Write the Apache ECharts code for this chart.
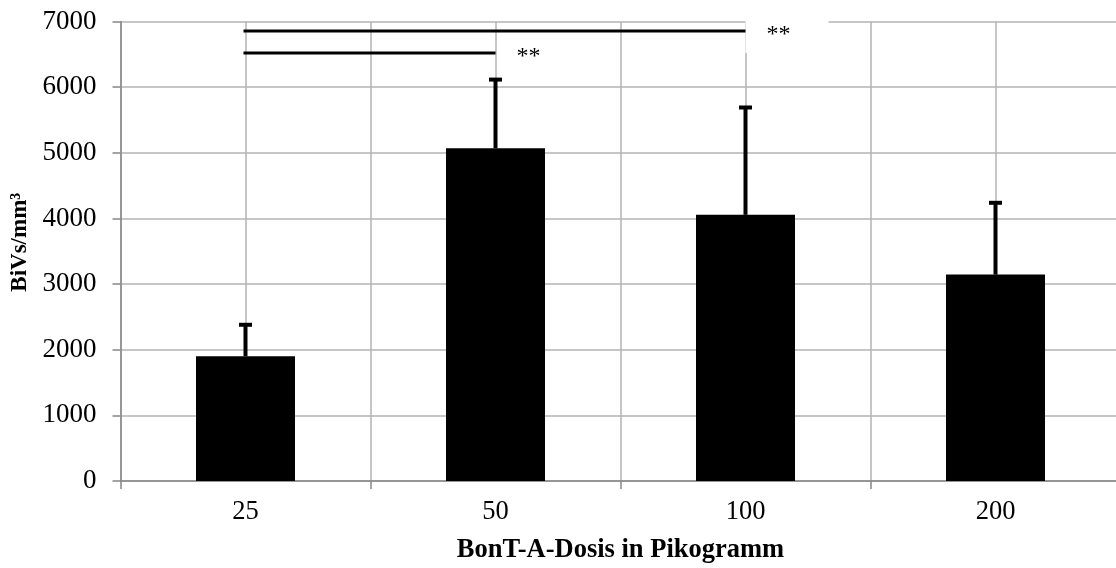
<!DOCTYPE html>
<html>
<head>
<meta charset="utf-8">
<script src="https://cdn.jsdelivr.net/npm/echarts@6/dist/echarts.min.js"></script>
<style>
html,body{margin:0;padding:0;background:#fff;overflow:hidden;}
#chart{width:1116px;height:568px;}
</style>
</head>
<body>
<div id="chart"></div>
<script>
const categories = ['25', '50', '100', '200'];
const means = [1900, 5070, 4055, 3145];
const errTops = [2380, 6115, 5690, 4238];
// significance brackets: from category index, to category index, y value, white box behind label
const sigFrom = [0, 0];
const sigTo = [2, 1];
const sigValues = [6855, 6520];
const sigLabels = ['**', '**'];
const sigBox = [1, 0];

const FONT = "'Liberation Serif', 'Times New Roman', serif";
const GRID = '#b3b3b3';
const AXIS = '#878787';

const chart = echarts.init(document.getElementById('chart'), null, {renderer: 'canvas'});

const option = {
  animation: false,
  backgroundColor: '#fff',
  grid: {left: 120.5, width: 1000, top: 21.5, bottom: 87, containLabel: false, outerBoundsMode: 'none'},
  xAxis: [{
    type: 'category',
    data: categories,
    name: 'BonT-A-Dosis in Pikogramm',
    nameLocation: 'middle',
    nameGap: 56,
    nameTextStyle: {fontFamily: FONT, fontSize: 26.5, fontWeight: 'bold', color: '#000'},
    axisLine: {lineStyle: {color: AXIS, width: 1.5}},
    axisTick: {show: true, length: 8, lineStyle: {color: AXIS, width: 1.5}, alignWithLabel: false},
    axisLabel: {fontFamily: FONT, fontSize: 26.5, color: '#000', margin: 18},
    splitLine: {show: false}
  }, {
    type: 'value',
    min: 0, max: 8, interval: 1,
    position: 'bottom',
    show: true,
    axisLine: {show: false},
    axisTick: {show: false},
    axisLabel: {show: false},
    splitLine: {show: true, lineStyle: {color: GRID, width: 1.5}}
  }],
  yAxis: {
    type: 'value',
    min: 0, max: 7000, interval: 1000,
    name: 'BiVs/mm³',
    nameLocation: 'middle',
    nameGap: 86,
    nameRotate: 90,
    nameTextStyle: {fontFamily: FONT, fontSize: 23, fontWeight: 'bold', color: '#000', padding: [0, 0, 0, 18]},
    axisLine: {show: true, lineStyle: {color: AXIS, width: 1.5}},
    axisTick: {show: true, length: 8, lineStyle: {color: AXIS, width: 1.5}},
    axisLabel: {fontFamily: FONT, fontSize: 27, color: '#000', margin: 24, formatter: function (v) { return String(v); }},
    splitLine: {show: true, lineStyle: {color: GRID, width: 1.5}}
  },
  series: [{
    type: 'bar',
    data: means,
    barWidth: 99,
    itemStyle: {color: '#000'},
    z: 2
  }, {
    type: 'custom',
    z: 3,
    data: categories.map((c, i) => [i, means[i], errTops[i]]),
    renderItem: function (params, api) {
      const i = api.value(0);
      const top = api.coord([i, api.value(2)]);
      const base = api.coord([i, api.value(1)]);
      return {
        type: 'group',
        children: [
          {type: 'line', shape: {x1: top[0], y1: top[1], x2: base[0], y2: base[1]}, style: {stroke: '#000', lineWidth: 4}},
          {type: 'line', shape: {x1: top[0] - 6.5, y1: top[1], x2: top[0] + 6.5, y2: top[1]}, style: {stroke: '#000', lineWidth: 4}}
        ]
      };
    }
  }, {
    type: 'custom',
    z: 4,
    clip: false,
    data: sigValues.map((v, k) => [sigFrom[k], sigTo[k], v, sigBox[k], k]),
    renderItem: function (params, api) {
      const p1 = api.coord([api.value(0), api.value(2)]);
      const p2 = api.coord([api.value(1), api.value(2)]);
      const k = api.value(4);
      const children = [];
      if (api.value(3)) {
        children.push({type: 'rect', shape: {x: p2[0], y: p2[1] - 34, width: 83, height: 56}, style: {fill: '#fff'}});
      }
      children.push({type: 'line', shape: {x1: p1[0] - 2, y1: p1[1], x2: p2[0], y2: p2[1]}, style: {stroke: '#000', lineWidth: 3}});
      children.push({type: 'text', x: p2[0] + 21, y: p2[1] + 4, style: {text: sigLabels[k], fontFamily: FONT, fontSize: 24, fill: '#000', verticalAlign: 'middle', align: 'left'}});
      return {type: 'group', children: children};
    }
  }]
};
chart.setOption(option);
</script>
</body>
</html>
